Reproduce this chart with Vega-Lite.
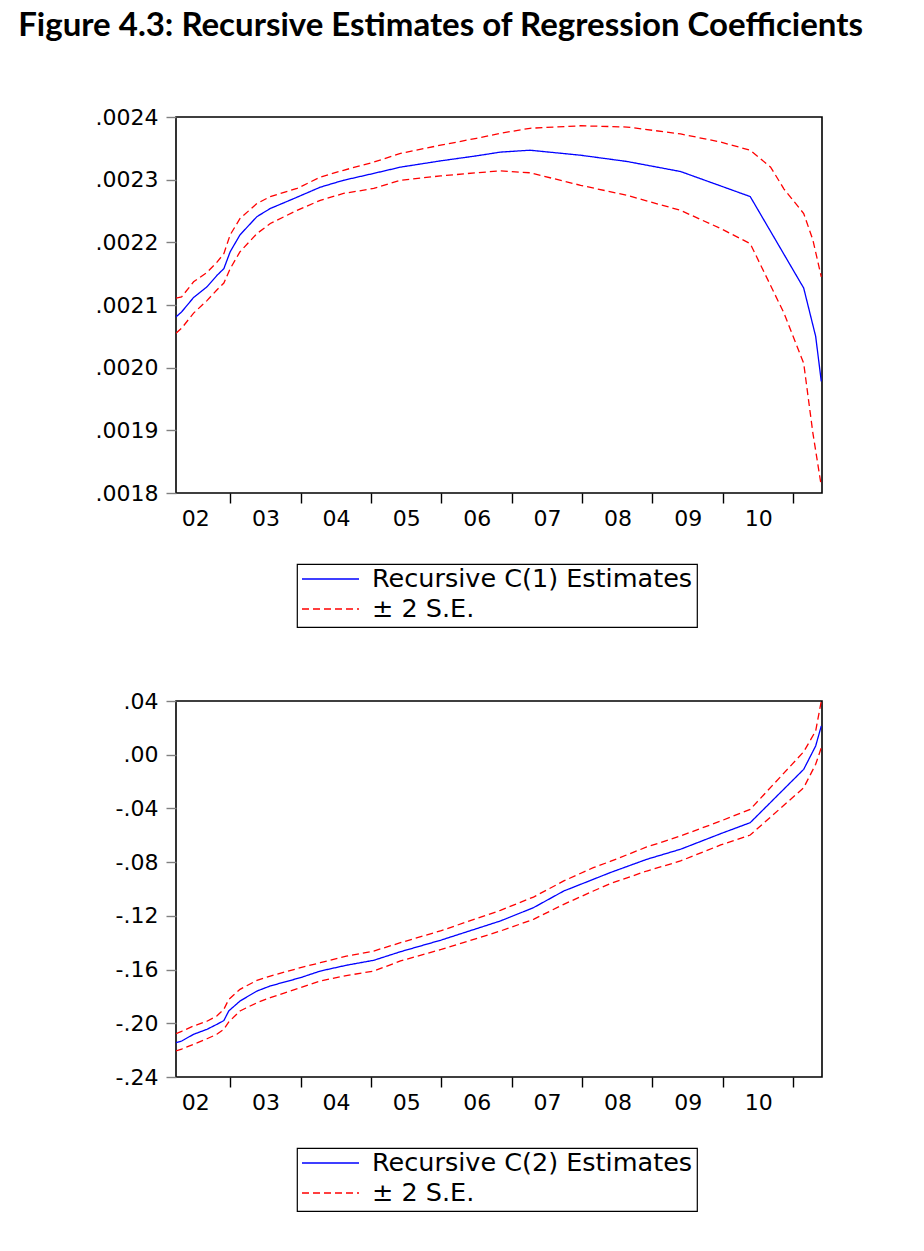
{
  "$schema": "https://vega.github.io/schema/vega-lite/v6.json",
  "background": "white",
  "padding": {"left": 18, "top": 10, "right": 5, "bottom": 5},
  "title": {"text": "Figure 4.3: Recursive Estimates of Regression Coefficients", "anchor": "start", "frame": "bounds", "font": "Lato", "fontSize": 33, "fontWeight": "bold", "color": "black", "offset": 62, "dx": -76},
  "datasets": {
    "c1": [
      {"t": 2002.23, "s": "Recursive C(1) Estimates", "b": "e", "v": 0.002081},
      {"t": 2002.31, "s": "Recursive C(1) Estimates", "b": "e", "v": 0.002089},
      {"t": 2002.48, "s": "Recursive C(1) Estimates", "b": "e", "v": 0.002112},
      {"t": 2002.67, "s": "Recursive C(1) Estimates", "b": "e", "v": 0.002129},
      {"t": 2002.81, "s": "Recursive C(1) Estimates", "b": "e", "v": 0.002147},
      {"t": 2002.91, "s": "Recursive C(1) Estimates", "b": "e", "v": 0.002158},
      {"t": 2003.00, "s": "Recursive C(1) Estimates", "b": "e", "v": 0.002185},
      {"t": 2003.14, "s": "Recursive C(1) Estimates", "b": "e", "v": 0.002212},
      {"t": 2003.38, "s": "Recursive C(1) Estimates", "b": "e", "v": 0.002241},
      {"t": 2003.57, "s": "Recursive C(1) Estimates", "b": "e", "v": 0.002254},
      {"t": 2003.95, "s": "Recursive C(1) Estimates", "b": "e", "v": 0.002272},
      {"t": 2004.28, "s": "Recursive C(1) Estimates", "b": "e", "v": 0.002288},
      {"t": 2004.61, "s": "Recursive C(1) Estimates", "b": "e", "v": 0.002299},
      {"t": 2005.04, "s": "Recursive C(1) Estimates", "b": "e", "v": 0.002310},
      {"t": 2005.42, "s": "Recursive C(1) Estimates", "b": "e", "v": 0.002320},
      {"t": 2005.99, "s": "Recursive C(1) Estimates", "b": "e", "v": 0.002330},
      {"t": 2006.50, "s": "Recursive C(1) Estimates", "b": "e", "v": 0.002338},
      {"t": 2006.84, "s": "Recursive C(1) Estimates", "b": "e", "v": 0.002344},
      {"t": 2007.26, "s": "Recursive C(1) Estimates", "b": "e", "v": 0.002347},
      {"t": 2007.98, "s": "Recursive C(1) Estimates", "b": "e", "v": 0.002339},
      {"t": 2008.64, "s": "Recursive C(1) Estimates", "b": "e", "v": 0.002329},
      {"t": 2009.40, "s": "Recursive C(1) Estimates", "b": "e", "v": 0.002313},
      {"t": 2009.97, "s": "Recursive C(1) Estimates", "b": "e", "v": 0.002290},
      {"t": 2010.39, "s": "Recursive C(1) Estimates", "b": "e", "v": 0.002273},
      {"t": 2011.15, "s": "Recursive C(1) Estimates", "b": "e", "v": 0.002127},
      {"t": 2011.32, "s": "Recursive C(1) Estimates", "b": "e", "v": 0.002050},
      {"t": 2011.40, "s": "Recursive C(1) Estimates", "b": "e", "v": 0.001978},
      {"t": 2002.23, "s": "± 2 S.E.", "b": "u", "v": 0.002111},
      {"t": 2002.31, "s": "± 2 S.E.", "b": "u", "v": 0.002113},
      {"t": 2002.48, "s": "± 2 S.E.", "b": "u", "v": 0.002137},
      {"t": 2002.67, "s": "± 2 S.E.", "b": "u", "v": 0.002152},
      {"t": 2002.81, "s": "± 2 S.E.", "b": "u", "v": 0.002168},
      {"t": 2002.91, "s": "± 2 S.E.", "b": "u", "v": 0.002182},
      {"t": 2003.00, "s": "± 2 S.E.", "b": "u", "v": 0.002212},
      {"t": 2003.14, "s": "± 2 S.E.", "b": "u", "v": 0.002238},
      {"t": 2003.38, "s": "± 2 S.E.", "b": "u", "v": 0.002262},
      {"t": 2003.57, "s": "± 2 S.E.", "b": "u", "v": 0.002273},
      {"t": 2003.95, "s": "± 2 S.E.", "b": "u", "v": 0.002286},
      {"t": 2004.28, "s": "± 2 S.E.", "b": "u", "v": 0.002304},
      {"t": 2004.61, "s": "± 2 S.E.", "b": "u", "v": 0.002315},
      {"t": 2005.04, "s": "± 2 S.E.", "b": "u", "v": 0.002328},
      {"t": 2005.42, "s": "± 2 S.E.", "b": "u", "v": 0.002342},
      {"t": 2005.99, "s": "± 2 S.E.", "b": "u", "v": 0.002355},
      {"t": 2006.50, "s": "± 2 S.E.", "b": "u", "v": 0.002366},
      {"t": 2006.84, "s": "± 2 S.E.", "b": "u", "v": 0.002374},
      {"t": 2007.26, "s": "± 2 S.E.", "b": "u", "v": 0.002382},
      {"t": 2007.98, "s": "± 2 S.E.", "b": "u", "v": 0.002386},
      {"t": 2008.64, "s": "± 2 S.E.", "b": "u", "v": 0.002384},
      {"t": 2009.40, "s": "± 2 S.E.", "b": "u", "v": 0.002373},
      {"t": 2009.97, "s": "± 2 S.E.", "b": "u", "v": 0.002360},
      {"t": 2010.39, "s": "± 2 S.E.", "b": "u", "v": 0.002347},
      {"t": 2010.68, "s": "± 2 S.E.", "b": "u", "v": 0.002320},
      {"t": 2010.87, "s": "± 2 S.E.", "b": "u", "v": 0.002285},
      {"t": 2011.15, "s": "± 2 S.E.", "b": "u", "v": 0.002246},
      {"t": 2011.28, "s": "± 2 S.E.", "b": "u", "v": 0.002204},
      {"t": 2011.40, "s": "± 2 S.E.", "b": "u", "v": 0.002145},
      {"t": 2002.23, "s": "± 2 S.E.", "b": "l", "v": 0.002055},
      {"t": 2002.31, "s": "± 2 S.E.", "b": "l", "v": 0.002063},
      {"t": 2002.48, "s": "± 2 S.E.", "b": "l", "v": 0.002087},
      {"t": 2002.67, "s": "± 2 S.E.", "b": "l", "v": 0.002107},
      {"t": 2002.81, "s": "± 2 S.E.", "b": "l", "v": 0.002124},
      {"t": 2002.91, "s": "± 2 S.E.", "b": "l", "v": 0.002135},
      {"t": 2003.00, "s": "± 2 S.E.", "b": "l", "v": 0.002158},
      {"t": 2003.14, "s": "± 2 S.E.", "b": "l", "v": 0.002185},
      {"t": 2003.38, "s": "± 2 S.E.", "b": "l", "v": 0.002214},
      {"t": 2003.57, "s": "± 2 S.E.", "b": "l", "v": 0.002230},
      {"t": 2003.95, "s": "± 2 S.E.", "b": "l", "v": 0.002251},
      {"t": 2004.28, "s": "± 2 S.E.", "b": "l", "v": 0.002267},
      {"t": 2004.61, "s": "± 2 S.E.", "b": "l", "v": 0.002278},
      {"t": 2005.04, "s": "± 2 S.E.", "b": "l", "v": 0.002286},
      {"t": 2005.42, "s": "± 2 S.E.", "b": "l", "v": 0.002299},
      {"t": 2005.99, "s": "± 2 S.E.", "b": "l", "v": 0.002306},
      {"t": 2006.50, "s": "± 2 S.E.", "b": "l", "v": 0.002311},
      {"t": 2006.84, "s": "± 2 S.E.", "b": "l", "v": 0.002314},
      {"t": 2007.26, "s": "± 2 S.E.", "b": "l", "v": 0.002311},
      {"t": 2007.98, "s": "± 2 S.E.", "b": "l", "v": 0.002291},
      {"t": 2008.64, "s": "± 2 S.E.", "b": "l", "v": 0.002275},
      {"t": 2009.40, "s": "± 2 S.E.", "b": "l", "v": 0.002251},
      {"t": 2009.97, "s": "± 2 S.E.", "b": "l", "v": 0.002222},
      {"t": 2010.39, "s": "± 2 S.E.", "b": "l", "v": 0.002198},
      {"t": 2010.87, "s": "± 2 S.E.", "b": "l", "v": 0.002087},
      {"t": 2011.15, "s": "± 2 S.E.", "b": "l", "v": 0.002007},
      {"t": 2011.28, "s": "± 2 S.E.", "b": "l", "v": 0.001896},
      {"t": 2011.40, "s": "± 2 S.E.", "b": "l", "v": 0.001811}
    ],
    "c2": [
      {"t": 2002.23, "s": "Recursive C(2) Estimates", "b": "e", "v": -0.2145},
      {"t": 2002.31, "s": "Recursive C(2) Estimates", "b": "e", "v": -0.2132},
      {"t": 2002.48, "s": "Recursive C(2) Estimates", "b": "e", "v": -0.2082},
      {"t": 2002.67, "s": "Recursive C(2) Estimates", "b": "e", "v": -0.2045},
      {"t": 2002.81, "s": "Recursive C(2) Estimates", "b": "e", "v": -0.2008},
      {"t": 2002.91, "s": "Recursive C(2) Estimates", "b": "e", "v": -0.1980},
      {"t": 2002.98, "s": "Recursive C(2) Estimates", "b": "e", "v": -0.1908},
      {"t": 2003.14, "s": "Recursive C(2) Estimates", "b": "e", "v": -0.1834},
      {"t": 2003.38, "s": "Recursive C(2) Estimates", "b": "e", "v": -0.1760},
      {"t": 2003.57, "s": "Recursive C(2) Estimates", "b": "e", "v": -0.1722},
      {"t": 2004.00, "s": "Recursive C(2) Estimates", "b": "e", "v": -0.1660},
      {"t": 2004.28, "s": "Recursive C(2) Estimates", "b": "e", "v": -0.1611},
      {"t": 2004.65, "s": "Recursive C(2) Estimates", "b": "e", "v": -0.1568},
      {"t": 2005.04, "s": "Recursive C(2) Estimates", "b": "e", "v": -0.1531},
      {"t": 2005.42, "s": "Recursive C(2) Estimates", "b": "e", "v": -0.1467},
      {"t": 2006.00, "s": "Recursive C(2) Estimates", "b": "e", "v": -0.1380},
      {"t": 2006.84, "s": "Recursive C(2) Estimates", "b": "e", "v": -0.1238},
      {"t": 2007.31, "s": "Recursive C(2) Estimates", "b": "e", "v": -0.1139},
      {"t": 2007.74, "s": "Recursive C(2) Estimates", "b": "e", "v": -0.1015},
      {"t": 2008.16, "s": "Recursive C(2) Estimates", "b": "e", "v": -0.0928},
      {"t": 2008.40, "s": "Recursive C(2) Estimates", "b": "e", "v": -0.0878},
      {"t": 2008.92, "s": "Recursive C(2) Estimates", "b": "e", "v": -0.0779},
      {"t": 2009.40, "s": "Recursive C(2) Estimates", "b": "e", "v": -0.0704},
      {"t": 2009.97, "s": "Recursive C(2) Estimates", "b": "e", "v": -0.0588},
      {"t": 2010.39, "s": "Recursive C(2) Estimates", "b": "e", "v": -0.0506},
      {"t": 2011.15, "s": "Recursive C(2) Estimates", "b": "e", "v": -0.0109},
      {"t": 2011.32, "s": "Recursive C(2) Estimates", "b": "e", "v": 0.0065},
      {"t": 2011.40, "s": "Recursive C(2) Estimates", "b": "e", "v": 0.0214},
      {"t": 2002.23, "s": "± 2 S.E.", "b": "u", "v": -0.2077},
      {"t": 2002.31, "s": "± 2 S.E.", "b": "u", "v": -0.2060},
      {"t": 2002.48, "s": "± 2 S.E.", "b": "u", "v": -0.2020},
      {"t": 2002.67, "s": "± 2 S.E.", "b": "u", "v": -0.1985},
      {"t": 2002.81, "s": "± 2 S.E.", "b": "u", "v": -0.1946},
      {"t": 2002.91, "s": "± 2 S.E.", "b": "u", "v": -0.1896},
      {"t": 2002.98, "s": "± 2 S.E.", "b": "u", "v": -0.1822},
      {"t": 2003.14, "s": "± 2 S.E.", "b": "u", "v": -0.1747},
      {"t": 2003.38, "s": "± 2 S.E.", "b": "u", "v": -0.1680},
      {"t": 2003.57, "s": "± 2 S.E.", "b": "u", "v": -0.1648},
      {"t": 2004.00, "s": "± 2 S.E.", "b": "u", "v": -0.1586},
      {"t": 2004.28, "s": "± 2 S.E.", "b": "u", "v": -0.1549},
      {"t": 2004.65, "s": "± 2 S.E.", "b": "u", "v": -0.1500},
      {"t": 2005.04, "s": "± 2 S.E.", "b": "u", "v": -0.1462},
      {"t": 2005.42, "s": "± 2 S.E.", "b": "u", "v": -0.1400},
      {"t": 2006.00, "s": "± 2 S.E.", "b": "u", "v": -0.1310},
      {"t": 2006.84, "s": "± 2 S.E.", "b": "u", "v": -0.1159},
      {"t": 2007.31, "s": "± 2 S.E.", "b": "u", "v": -0.1060},
      {"t": 2007.74, "s": "± 2 S.E.", "b": "u", "v": -0.0940},
      {"t": 2008.16, "s": "± 2 S.E.", "b": "u", "v": -0.0841},
      {"t": 2008.40, "s": "± 2 S.E.", "b": "u", "v": -0.0795},
      {"t": 2008.92, "s": "± 2 S.E.", "b": "u", "v": -0.0687},
      {"t": 2009.40, "s": "± 2 S.E.", "b": "u", "v": -0.0605},
      {"t": 2009.97, "s": "± 2 S.E.", "b": "u", "v": -0.0494},
      {"t": 2010.39, "s": "± 2 S.E.", "b": "u", "v": -0.0407},
      {"t": 2011.15, "s": "± 2 S.E.", "b": "u", "v": 0.0022},
      {"t": 2011.32, "s": "± 2 S.E.", "b": "u", "v": 0.0177},
      {"t": 2011.40, "s": "± 2 S.E.", "b": "u", "v": 0.0400},
      {"t": 2002.23, "s": "± 2 S.E.", "b": "l", "v": -0.2206},
      {"t": 2002.31, "s": "± 2 S.E.", "b": "l", "v": -0.2192},
      {"t": 2002.48, "s": "± 2 S.E.", "b": "l", "v": -0.2157},
      {"t": 2002.67, "s": "± 2 S.E.", "b": "l", "v": -0.2115},
      {"t": 2002.81, "s": "± 2 S.E.", "b": "l", "v": -0.2082},
      {"t": 2002.91, "s": "± 2 S.E.", "b": "l", "v": -0.2045},
      {"t": 2002.98, "s": "± 2 S.E.", "b": "l", "v": -0.1990},
      {"t": 2003.14, "s": "± 2 S.E.", "b": "l", "v": -0.1908},
      {"t": 2003.38, "s": "± 2 S.E.", "b": "l", "v": -0.1847},
      {"t": 2003.57, "s": "± 2 S.E.", "b": "l", "v": -0.1809},
      {"t": 2004.00, "s": "± 2 S.E.", "b": "l", "v": -0.1735},
      {"t": 2004.28, "s": "± 2 S.E.", "b": "l", "v": -0.1685},
      {"t": 2004.65, "s": "± 2 S.E.", "b": "l", "v": -0.1645},
      {"t": 2005.04, "s": "± 2 S.E.", "b": "l", "v": -0.1611},
      {"t": 2005.42, "s": "± 2 S.E.", "b": "l", "v": -0.1536},
      {"t": 2006.00, "s": "± 2 S.E.", "b": "l", "v": -0.1450},
      {"t": 2006.84, "s": "± 2 S.E.", "b": "l", "v": -0.1313},
      {"t": 2007.31, "s": "± 2 S.E.", "b": "l", "v": -0.1226},
      {"t": 2007.74, "s": "± 2 S.E.", "b": "l", "v": -0.1114},
      {"t": 2008.16, "s": "± 2 S.E.", "b": "l", "v": -0.1015},
      {"t": 2008.40, "s": "± 2 S.E.", "b": "l", "v": -0.0960},
      {"t": 2008.92, "s": "± 2 S.E.", "b": "l", "v": -0.0866},
      {"t": 2009.40, "s": "± 2 S.E.", "b": "l", "v": -0.0791},
      {"t": 2009.97, "s": "± 2 S.E.", "b": "l", "v": -0.0672},
      {"t": 2010.39, "s": "± 2 S.E.", "b": "l", "v": -0.0598},
      {"t": 2011.15, "s": "± 2 S.E.", "b": "l", "v": -0.0246},
      {"t": 2011.32, "s": "± 2 S.E.", "b": "l", "v": -0.0071},
      {"t": 2011.40, "s": "± 2 S.E.", "b": "l", "v": 0.0052}
    ]
  },
  "spacing": 60,
  "vconcat": [
    {
      "data": {"name": "c1"},
      "width": 646,
      "height": 376,
      "mark": {"type": "line", "strokeWidth": 1.3, "clip": true},
      "encoding": {
        "x": {"field": "t", "type": "quantitative", "scale": {"domain": [2002.23, 2011.41], "nice": false, "zero": false},
              "axis": {"values": [2003, 2004, 2005, 2006, 2007, 2008, 2009, 2010, 2011], "labelExpr": "substring(toString(datum.value - 1), 2)"}},
        "y": {"field": "v", "type": "quantitative", "scale": {"domain": [0.0018, 0.0024], "nice": false, "zero": false},
              "axis": {"values": [0.0018, 0.0019, 0.002, 0.0021, 0.0022, 0.0023, 0.0024], "labelExpr": "replace(format(datum.value, '.4f'), '0.', '.')"}},
        "color": {"field": "s", "type": "nominal", "scale": {"domain": ["Recursive C(1) Estimates", "± 2 S.E."], "range": ["#0000ff", "#ff0000"]}, "legend": {"title": null}},
        "strokeDash": {"field": "s", "type": "nominal", "scale": {"domain": ["Recursive C(1) Estimates", "± 2 S.E."], "range": [[1, 0], [7, 4]]}, "legend": {"title": null}},
        "detail": {"field": "b", "type": "nominal"}
      }
    },
    {
      "data": {"name": "c2"},
      "width": 646,
      "height": 376,
      "mark": {"type": "line", "strokeWidth": 1.3, "clip": true},
      "encoding": {
        "x": {"field": "t", "type": "quantitative", "scale": {"domain": [2002.23, 2011.41], "nice": false, "zero": false},
              "axis": {"values": [2003, 2004, 2005, 2006, 2007, 2008, 2009, 2010, 2011], "labelExpr": "substring(toString(datum.value - 1), 2)"}},
        "y": {"field": "v", "type": "quantitative", "scale": {"domain": [-0.24, 0.04], "nice": false, "zero": false},
              "axis": {"values": [-0.24, -0.2, -0.16, -0.12, -0.08, -0.04, 0, 0.04], "labelExpr": "(datum.value < 0 ? '-' : '') + replace(format(abs(datum.value), '.2f'), '0.', '.')"}},
        "color": {"field": "s", "type": "nominal", "scale": {"domain": ["Recursive C(2) Estimates", "± 2 S.E."], "range": ["#0000ff", "#ff0000"]}, "legend": {"title": null}},
        "strokeDash": {"field": "s", "type": "nominal", "scale": {"domain": ["Recursive C(2) Estimates", "± 2 S.E."], "range": [[1, 0], [7, 4]]}, "legend": {"title": null}},
        "detail": {"field": "b", "type": "nominal"}
      }
    }
  ],
  "resolve": {"scale": {"color": "independent", "strokeDash": "independent", "y": "independent"}, "legend": {"color": "independent", "strokeDash": "independent"}},
  "config": {
    "view": {"stroke": "black", "strokeWidth": 1.6},
    "axis": {"domain": false, "grid": false, "title": null, "labelFont": "DejaVu Sans", "labelFontSize": 22, "labelColor": "black", "tickSize": 10, "tickWidth": 1.4, "labelOverlap": false, "labelBound": false, "labelFlush": false},
    "axisX": {"tickColor": "black", "labelOffset": -35, "labelPadding": 5},
    "axisY": {"tickColor": "#808080", "labelPadding": 8},
    "legend": {"orient": "none", "legendX": 121, "legendY": 447, "strokeColor": "black", "strokeWidth": 1.2, "fillColor": "white", "padding": 4, "cornerRadius": 0, "labelFont": "DejaVu Sans", "labelFontSize": 25.5, "labelColor": "black", "labelLimit": 0, "symbolType": "stroke", "symbolSize": 3249, "symbolStrokeWidth": 1.5, "labelOffset": 12, "rowPadding": 4, "clipHeight": 22}
  }
}
